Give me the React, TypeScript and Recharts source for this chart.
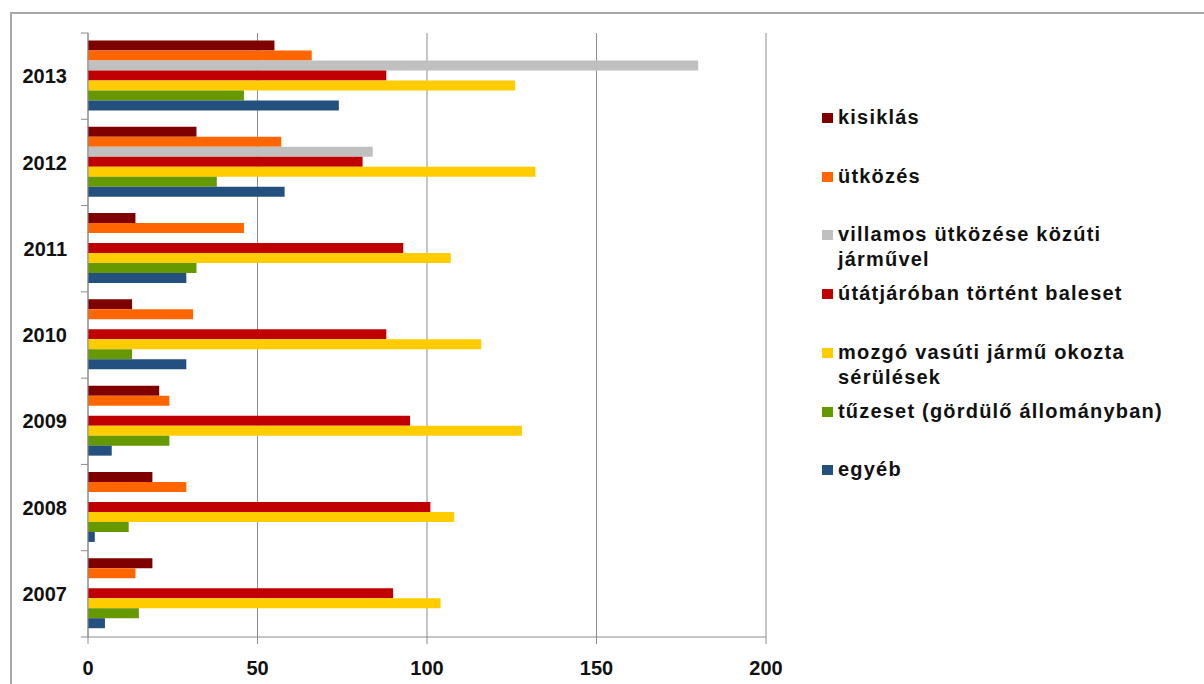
import React from 'react';
import { BarChart, Bar, XAxis, YAxis, CartesianGrid, Legend } from 'recharts';

const FONT = '"Liberation Sans", Arial, sans-serif';

// years, top to bottom
const years = ['2013', '2012', '2011', '2010', '2009', '2008', '2007'];

// number of events per year
const kisiklas = [55, 32, 14, 13, 21, 19, 19];
const utkozes = [66, 57, 46, 31, 24, 29, 14];
const villamos = [180, 84, 0, 0, 0, 0, 0];
const utatjaro = [88, 81, 93, 88, 95, 101, 90];
const mozgo = [126, 132, 107, 116, 128, 108, 104];
const tuzeset = [46, 38, 32, 13, 24, 12, 15];
const egyeb = [74, 58, 29, 29, 7, 2, 5];

const xTicks = [0, 50, 100, 150, 200];

// legend labels, one entry per printed line
const series = [
  { key: 'kisiklas', lines: ['kisiklás'], color: '#7f0000', values: kisiklas },
  { key: 'utkozes', lines: ['ütközés'], color: '#ff6600', values: utkozes },
  { key: 'villamos', lines: ['villamos ütközése közúti', 'járművel'], color: '#c0c0c0', values: villamos },
  { key: 'utatjaro', lines: ['útátjáróban történt baleset'], color: '#c00000', values: utatjaro },
  { key: 'mozgo', lines: ['mozgó vasúti jármű okozta', 'sérülések'], color: '#ffcc00', values: mozgo },
  { key: 'tuzeset', lines: ['tűzeset (gördülő állományban)'], color: '#669900', values: tuzeset },
  { key: 'egyeb', lines: ['egyéb'], color: '#23507f', values: egyeb },
];

const data = years.map((year, i) => {
  const row: Record<string, string | number> = { year };
  series.forEach(s => {
    row[s.key] = s.values[i];
  });
  return row;
});

const AXIS = '#8c8c8c';
const PLOT_TOP = 33;
const PLOT_BOTTOM = 637;
const HALF_BAND = (PLOT_BOTTOM - PLOT_TOP) / years.length / 2;

// year label plus the small divider ticks between the year groups
const YearTick = (props: any) => {
  const { x, y, payload, index } = props;
  return (
    <g>
      <text
        x={x - 21}
        y={y}
        dy="0.36em"
        textAnchor="end"
        fontFamily={FONT}
        fontWeight="bold"
        fontSize={20}
        fill="#111"
      >
        {payload.value}
      </text>
      {index === 0 && (
        <line x1={x - 7} x2={x} y1={y - HALF_BAND} y2={y - HALF_BAND} stroke={AXIS} />
      )}
      <line x1={x - 7} x2={x} y1={y + HALF_BAND} y2={y + HALF_BAND} stroke={AXIS} />
    </g>
  );
};

const LegendBox = () => (
  <div style={{ position: 'relative', fontFamily: FONT, fontWeight: 'bold', fontSize: 20, color: '#111' }}>
    {series.map((s, i) => (
      <div
        key={s.key}
        style={{ position: 'absolute', left: 0, top: i * 58.7, display: 'flex', alignItems: 'flex-start' }}
      >
        <span style={{ width: 11, height: 10, background: s.color, marginTop: 8, marginRight: 5, flex: 'none' }} />
        <span style={{ lineHeight: '25px', letterSpacing: 1.2, whiteSpace: 'nowrap' }}>
          {s.lines.map(line => (
            <div key={line}>{line}</div>
          ))}
        </span>
      </div>
    ))}
  </div>
);

export default function App() {
  return (
    <div style={{ position: 'absolute', left: 0, top: 0, width: 1204, height: 684, background: '#fff' }}>
      <div
        style={{
          position: 'absolute',
          left: 10,
          top: 12,
          right: 0,
          bottom: 0,
          borderTop: '2px solid #a8a8a8',
          borderLeft: '2px solid #a8a8a8',
        }}
      />
      <BarChart
        width={1204}
        height={684}
        data={data}
        layout="vertical"
        margin={{ top: PLOT_TOP, right: 438, left: 0, bottom: 7 }}
        barCategoryGap={7.5}
        barGap={0}
      >
        <CartesianGrid horizontal={false} stroke={AXIS} />
        <XAxis
          type="number"
          domain={[0, 200]}
          ticks={xTicks}
          interval={0}
          height={40}
          stroke={AXIS}
          tickSize={7}
          tickMargin={17}
          tick={{ fill: '#111', fontSize: 20, fontWeight: 'bold', fontFamily: FONT }}
        />
        <YAxis
          type="category"
          dataKey="year"
          width={88}
          stroke={AXIS}
          tickLine={false}
          tickSize={0}
          tickMargin={0}
          tick={<YearTick />}
          interval={0}
        />
        <Legend
          layout="vertical"
          align="center"
          verticalAlign="middle"
          content={<LegendBox />}
          wrapperStyle={{ left: 822, top: 105, width: 380, height: 420 }}
        />
        {series.map(s => (
          <Bar
            key={s.key}
            dataKey={s.key}
            name={s.lines.join(' ')}
            fill={s.color}
            isAnimationActive={false}
          />
        ))}
      </BarChart>
    </div>
  );
}
